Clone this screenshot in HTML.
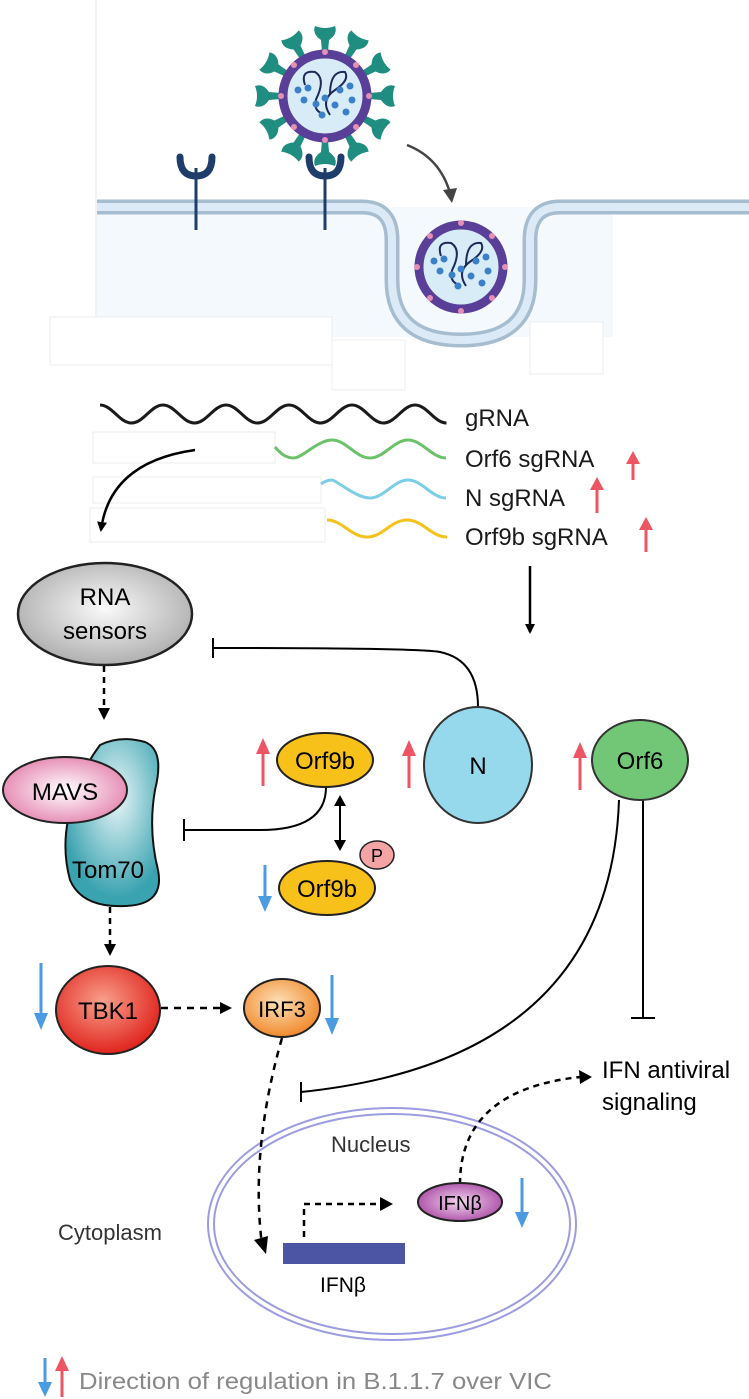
<!DOCTYPE html>
<html><head><meta charset="utf-8"><style>
html,body{margin:0;padding:0;background:#fff}
svg{display:block}
text{font-family:"Liberation Sans",Arial,sans-serif}
</style></head><body>
<svg width="749" height="1399" viewBox="0 0 749 1399" xmlns="http://www.w3.org/2000/svg">
<defs>
<marker id="ah" markerWidth="10" markerHeight="10" refX="8" refY="5" orient="auto" markerUnits="userSpaceOnUse"><path d="M0,0 L10,5 L0,10 z" fill="#000"/></marker>
<radialGradient id="gGray" cx="0.5" cy="0.45" r="0.6"><stop offset="0" stop-color="#fafafa"/><stop offset="1" stop-color="#a9a9a9"/></radialGradient>
<radialGradient id="gTeal" cx="0.55" cy="0.35" r="0.6"><stop offset="0" stop-color="#e9f6f8"/><stop offset="1" stop-color="#3aa3b0"/></radialGradient>
<radialGradient id="gPink" cx="0.5" cy="0.5" r="0.6"><stop offset="0" stop-color="#fff"/><stop offset="1" stop-color="#e27aa8"/></radialGradient>
<radialGradient id="gRed" cx="0.45" cy="0.4" r="0.6"><stop offset="0" stop-color="#f8a08c"/><stop offset="1" stop-color="#e0241d"/></radialGradient>
<radialGradient id="gOr" cx="0.45" cy="0.4" r="0.6"><stop offset="0" stop-color="#fde0b8"/><stop offset="1" stop-color="#f08a2c"/></radialGradient>
<radialGradient id="gPur" cx="0.5" cy="0.5" r="0.6"><stop offset="0" stop-color="#f3d6f0"/><stop offset="1" stop-color="#a33f9e"/></radialGradient>
</defs>

<!-- cell region -->
<line x1="96" y1="0" x2="96" y2="317" stroke="#e6e6e6" stroke-width="1"/>
<rect x="97" y="207" width="516" height="130" fill="#f4f9fd"/>
<rect x="50" y="317" width="282" height="48" fill="#fff" stroke="#ececec"/>
<rect x="332" y="340" width="73" height="50" fill="#fff" stroke="#ececec"/>
<rect x="530" y="322" width="73" height="52" fill="#fff" stroke="#ececec"/>
<!-- membrane -->
<path d="M97 207 H362 Q392 207 392 240 V280 Q392 340 461 340 Q530 340 530 280 V240 Q530 207 560 207 H749" fill="none" stroke="#a6bccf" stroke-width="15"/>
<path d="M97 207 H362 Q392 207 392 240 V280 Q392 340 461 340 Q530 340 530 280 V240 Q530 207 560 207 H749" fill="none" stroke="#dbeaf6" stroke-width="8"/>
<!-- receptors -->
<line x1="196" y1="168" x2="196" y2="230" stroke="#1e3d6b" stroke-width="3"/>
<path d="M180 157 Q180 176 196 176 Q212 176 212 157" fill="none" stroke="#1e3d6b" stroke-width="7" stroke-linecap="round"/>
<line x1="325" y1="168" x2="325" y2="230" stroke="#1e3d6b" stroke-width="3"/>
<path d="M309 157 Q309 176 325 176 Q341 176 341 157" fill="none" stroke="#1e3d6b" stroke-width="7" stroke-linecap="round"/>
<!-- virus -->
<g transform="translate(325,96)" fill="#1f8e80">
<g id="sp"><path d="M-3 -44 L-4 -56 Q-13 -62 -10 -70 Q0 -66 10 -70 Q13 -62 4 -56 L3 -44 z"/></g>
<use href="#sp" transform="rotate(30)"/><use href="#sp" transform="rotate(60)"/><use href="#sp" transform="rotate(90)"/><use href="#sp" transform="rotate(120)"/><use href="#sp" transform="rotate(150)"/><use href="#sp" transform="rotate(180)"/><use href="#sp" transform="rotate(210)"/><use href="#sp" transform="rotate(240)"/><use href="#sp" transform="rotate(270)"/><use href="#sp" transform="rotate(300)"/><use href="#sp" transform="rotate(330)"/>
</g>
<g id="vir">
<circle cx="325" cy="96" r="42" fill="#d7ecf7" stroke="#5a3f98" stroke-width="9"/>
<g fill="#e58fb7"><circle cx="325" cy="52" r="3"/><circle cx="325" cy="140" r="3"/><circle cx="281" cy="96" r="3"/><circle cx="369" cy="96" r="3"/><circle cx="294" cy="65" r="3"/><circle cx="356" cy="65" r="3"/><circle cx="294" cy="127" r="3"/><circle cx="356" cy="127" r="3"/></g>
<path d="M305 85 Q300 70 315 72 Q325 78 318 95 Q310 110 325 115 M330 95 Q330 70 345 72 Q350 80 335 90 Q320 100 330 115" fill="none" stroke="#1c2a5a" stroke-width="2"/>
<g fill="#3b7fc8"><circle cx="298" cy="90" r="3.5"/><circle cx="308" cy="88" r="3.5"/><circle cx="304" cy="100" r="3.5"/><circle cx="316" cy="104" r="3.5"/><circle cx="325" cy="98" r="3.5"/><circle cx="322" cy="115" r="3.5"/><circle cx="335" cy="105" r="3.5"/><circle cx="340" cy="90" r="3.5"/><circle cx="350" cy="86" r="3.5"/><circle cx="346" cy="112" r="3.5"/><circle cx="352" cy="100" r="3.5"/></g>
</g>
<use href="#vir" transform="translate(136,171)"/>
<path d="M407 145 Q440 158 450 193" fill="none" stroke="#444" stroke-width="2.5"/>
<path d="M443 190 L452 203 L457 188 z" fill="#444"/>

<!-- RNA -->
<path d="M100 405 c12 0 19.5 18 31.5 18 s19.5 -18 31.5 -18 s19.5 18 31.5 18 s19.5 -18 31.5 -18 s19.5 18 31.5 18 s19.5 -18 31.5 -18 s19.5 18 31.5 18 s19.5 -18 31.5 -18 s19.5 18 31.5 18 s19.5 -18 31.5 -18 s19.5 18 31.5 18" fill="none" stroke="#1a1a1a" stroke-width="3"/>
<rect x="93" y="432" width="182" height="31" fill="none" stroke="#eee"/>
<rect x="93" y="477" width="228" height="26" fill="none" stroke="#eee"/>
<rect x="90" y="508" width="235" height="34" fill="none" stroke="#eee"/>
<path d="M275 447 c6 7 11 11 19 11 s24 -18 38 -18 s24 18 38 18 s24 -18 38 -18 s24 18 38 18" fill="none" stroke="#6cc26a" stroke-width="3"/>
<path d="M321 484 c4 -3 7 -4 11 -4 s24 18 38 18 s24 -18 38 -18 s24 18 38 18" fill="none" stroke="#7ccde6" stroke-width="3"/>
<path d="M327 520 c15 0 24 17 40 17 s24 -17 40 -17 s24 17 40 17" fill="none" stroke="#f4c21a" stroke-width="3"/>
<g font-size="24" fill="#1a1a1a">
<text x="465" y="426">gRNA</text>
<text x="465" y="467">Orf6 sgRNA</text>
<text x="465" y="506">N sgRNA</text>
<text x="465" y="545">Orf9b sgRNA</text>
</g>
<g stroke="#ee5563" stroke-width="3" fill="#ee5563">
<line x1="633" y1="480" x2="633" y2="462"/><path d="M626 464 L633 451 L640 464 z" stroke="none"/>
<line x1="597" y1="513" x2="597" y2="488"/><path d="M590 490 L597 477 L604 490 z" stroke="none"/>
<line x1="646" y1="552" x2="646" y2="528"/><path d="M639 530 L646 517 L653 530 z" stroke="none"/>
</g>
<path d="M195 450 Q110 462 101 530" fill="none" stroke="#000" stroke-width="2.5" marker-end="url(#ah)"/>
<line x1="530" y1="566" x2="530" y2="632" stroke="#000" stroke-width="2.5" marker-end="url(#ah)"/>

<!-- RNA sensors -->
<ellipse cx="105" cy="614" rx="87" ry="51" fill="url(#gGray)" stroke="#222" stroke-width="2.5"/>
<text x="105" y="605" font-size="24" text-anchor="middle">RNA</text>
<text x="105" y="639" font-size="24" text-anchor="middle">sensors</text>
<path d="M478 707 Q478 660 440 652 Q420 648 213 648" fill="none" stroke="#000" stroke-width="2"/>
<line x1="213" y1="638" x2="213" y2="658" stroke="#000" stroke-width="2"/>
<line x1="104" y1="666" x2="104" y2="712" stroke="#000" stroke-width="2.5" stroke-dasharray="6,5"/>
<path d="M98 708 L104 720 L110 708 z"/>

<!-- Tom70 / MAVS -->
<path d="M100 745 Q120 735 145 742 Q165 750 155 790 Q148 830 158 870 Q165 905 125 906 Q82 908 70 880 Q62 850 68 820 Q74 780 100 745 z" fill="url(#gTeal)" stroke="#111" stroke-width="2"/>
<ellipse cx="65" cy="790" rx="62" ry="33" fill="url(#gPink)" stroke="#222" stroke-width="2"/>
<text x="65" y="800" font-size="24" text-anchor="middle">MAVS</text>
<text x="108" y="878" font-size="24" text-anchor="middle">Tom70</text>
<line x1="110" y1="907" x2="110" y2="950" stroke="#000" stroke-width="2.5" stroke-dasharray="6,5"/>
<path d="M104 944 L110 956 L116 944 z"/>

<!-- Orf9b -->
<path d="M326 787 Q326 830 260 830 L184 830" fill="none" stroke="#000" stroke-width="2"/>
<line x1="184" y1="819" x2="184" y2="841" stroke="#000" stroke-width="2"/>
<ellipse cx="325" cy="760" rx="48" ry="27" fill="#f8c11a" stroke="#222" stroke-width="2"/>
<text x="325" y="769" font-size="24" text-anchor="middle">Orf9b</text>
<line x1="340" y1="803" x2="340" y2="842" stroke="#000" stroke-width="2"/>
<path d="M334 806 L340 795 L346 806 z"/><path d="M334 840 L340 851 L346 840 z"/>
<ellipse cx="327" cy="888" rx="48" ry="27" fill="#f8c11a" stroke="#222" stroke-width="2"/>
<text x="327" y="897" font-size="24" text-anchor="middle">Orf9b</text>
<ellipse cx="377" cy="855" rx="17" ry="14" fill="#f4a4a4" stroke="#222" stroke-width="1.5"/>
<text x="377" y="862" font-size="18" text-anchor="middle">P</text>

<!-- N, Orf6 -->
<ellipse cx="478" cy="765" rx="54" ry="58" fill="#96d9ed" stroke="#333" stroke-width="2"/>
<text x="478" y="774" font-size="24" text-anchor="middle">N</text>
<path d="M619 800 Q610 1060 301 1092" fill="none" stroke="#000" stroke-width="2"/>
<line x1="301" y1="1082" x2="301" y2="1102" stroke="#000" stroke-width="2"/>
<line x1="643" y1="800" x2="643" y2="1018" stroke="#000" stroke-width="2"/>
<line x1="631" y1="1018" x2="655" y2="1018" stroke="#000" stroke-width="2"/>
<ellipse cx="640" cy="760" rx="48" ry="40" fill="#72c777" stroke="#333" stroke-width="2"/>
<text x="640" y="769" font-size="24" text-anchor="middle">Orf6</text>

<g stroke="#ee5563" stroke-width="3" fill="#ee5563">
<line x1="263" y1="786" x2="263" y2="752"/><path d="M256 754 L263 738 L270 754 z" stroke="none"/>
<line x1="409" y1="788" x2="409" y2="754"/><path d="M402 756 L409 740 L416 756 z" stroke="none"/>
<line x1="580" y1="790" x2="580" y2="756"/><path d="M573 758 L580 742 L587 758 z" stroke="none"/>
</g>
<g stroke="#4b9be0" stroke-width="3" fill="#4b9be0">
<line x1="265" y1="865" x2="265" y2="898"/><path d="M258 896 L265 912 L272 896 z" stroke="none"/>
<line x1="41" y1="963" x2="41" y2="1015"/><path d="M34 1013 L41 1030 L48 1013 z" stroke="none"/>
<line x1="332" y1="975" x2="332" y2="1020"/><path d="M325 1018 L332 1035 L339 1018 z" stroke="none"/>
<line x1="522" y1="1178" x2="522" y2="1214"/><path d="M515 1212 L522 1228 L529 1212 z" stroke="none"/>
</g>

<!-- TBK1 IRF3 -->
<ellipse cx="108" cy="1010" rx="52" ry="44" fill="url(#gRed)" stroke="#222" stroke-width="2"/>
<text x="108" y="1019" font-size="24" text-anchor="middle">TBK1</text>
<line x1="161" y1="1008" x2="222" y2="1008" stroke="#000" stroke-width="2.5" stroke-dasharray="7,6"/>
<path d="M220 1002 L232 1008 L220 1014 z"/>
<ellipse cx="282" cy="1008" rx="38" ry="29" fill="url(#gOr)" stroke="#222" stroke-width="2"/>
<text x="282" y="1017" font-size="22" text-anchor="middle">IRF3</text>

<!-- nucleus -->
<ellipse cx="392" cy="1224" rx="184" ry="116" fill="none" stroke="#9c9de0" stroke-width="2"/>
<ellipse cx="392" cy="1224" rx="178" ry="110" fill="none" stroke="#9c9de0" stroke-width="2"/>
<path d="M282 1038 Q250 1150 262 1245" fill="none" stroke="#000" stroke-width="2.5" stroke-dasharray="7,6"/>
<path d="M254 1240 L266 1254 L268 1236 z"/>
<rect x="283" y="1243" width="122" height="21" fill="#4b55a3"/>
<text x="343" y="1292" font-size="21" text-anchor="middle">IFNβ</text>
<polyline points="304,1237 304,1204 382,1204" fill="none" stroke="#000" stroke-width="2.5" stroke-dasharray="6,5"/>
<path d="M380 1197 L393 1204 L380 1211 z"/>
<path d="M460 1184 Q460 1090 580 1077" fill="none" stroke="#000" stroke-width="2.5" stroke-dasharray="6,5"/>
<path d="M579 1070 L592 1077 L580 1084 z"/>
<ellipse cx="460" cy="1202" rx="42" ry="19" fill="url(#gPur)" stroke="#222" stroke-width="2"/>
<text x="460" y="1210" font-size="20" text-anchor="middle">IFNβ</text>
<text x="331" y="1152" font-size="22" fill="#333">Nucleus</text>
<text x="58" y="1240" font-size="22" fill="#333">Cytoplasm</text>
<text x="602" y="1078" font-size="24">IFN antiviral</text>
<text x="602" y="1110" font-size="24">signaling</text>

<!-- legend -->
<g stroke-width="3">
<line x1="45" y1="1358" x2="45" y2="1385" stroke="#4b9be0"/><path d="M38 1382 L45 1397 L52 1382 z" fill="#4b9be0"/>
<line x1="62" y1="1397" x2="62" y2="1368" stroke="#ee5563"/><path d="M55 1371 L62 1356 L69 1371 z" fill="#ee5563"/>
</g>
<text x="79" y="1389" font-size="23" fill="#888" textLength="473" lengthAdjust="spacingAndGlyphs">Direction of regulation in B.1.1.7 over VIC</text>
</svg>
</body></html>
